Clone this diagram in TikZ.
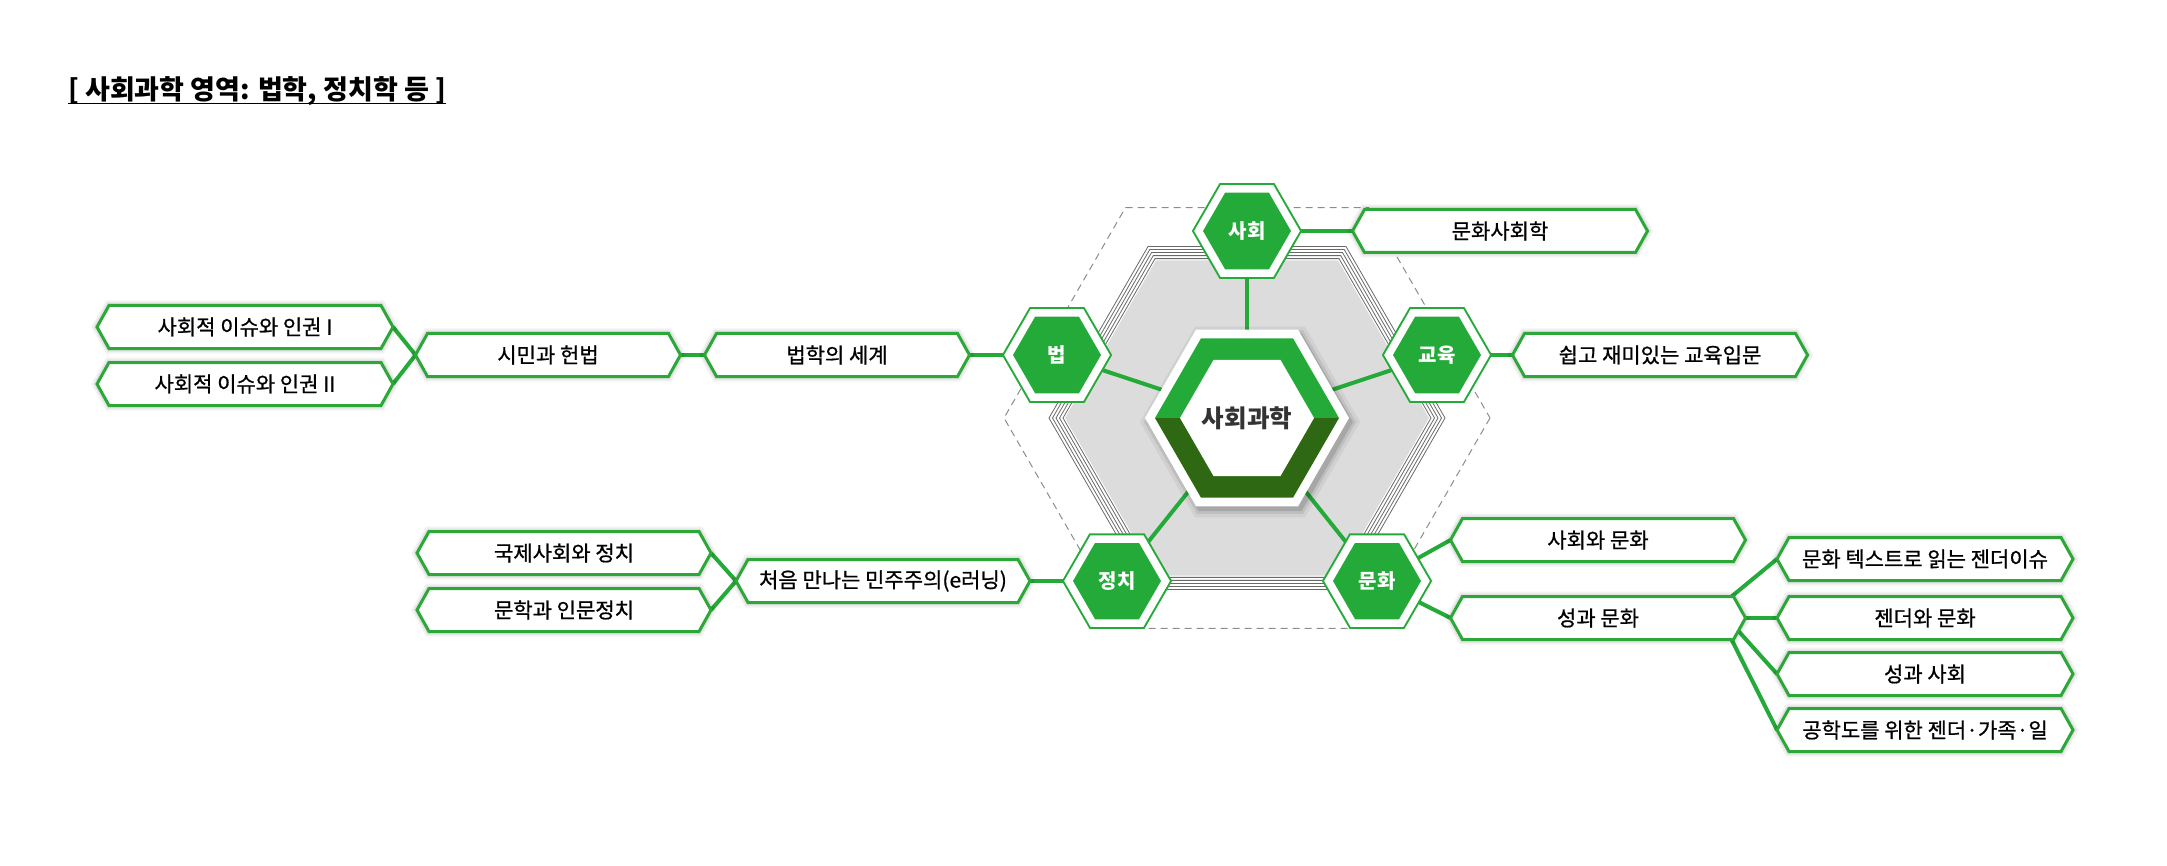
\documentclass[tikz,border=0pt]{standalone}
\usepackage{fontspec}
\setmainfont{Noto Sans CJK KR}
\newfontfamily\lblfont[FakeBold=0.8]{Noto Sans CJK KR}
\usetikzlibrary{shapes.geometric,calc}
\definecolor{hexgreen}{RGB}{36,170,57}
\definecolor{darkg}{RGB}{46,104,18}
\definecolor{boxgreen}{RGB}{44,168,56}
\definecolor{grayfill}{RGB}{220,220,220}
\definecolor{hexline}{RGB}{105,105,105}
\definecolor{coretxt}{RGB}{51,51,51}
\pgfdeclarelayer{back}
\pgfdeclarelayer{bg}
\pgfdeclarelayer{mid}
\pgfsetlayers{back,bg,mid,main}
\newcommand\frameit[1]{%
  \begin{pgfonlayer}{mid}
  \draw[boxframe] (#1.west) -- ([xshift=12pt]#1.north west) -- ([xshift=-12pt]#1.north east) -- (#1.east) -- ([xshift=-12pt]#1.south east) -- ([xshift=12pt]#1.south west) -- cycle;
  \end{pgfonlayer}}
\newcommand\hexat[1]{(0:#1) -- (60:#1) -- (120:#1) -- (180:#1) -- (240:#1) -- (300:#1) -- cycle}
\begin{document}
\begin{tikzpicture}[x=1pt,y=-1pt,
  lbl/.style={rectangle, inner sep=0pt, outer sep=0pt, minimum height=43pt, font=\lblfont\fontsize{21pt}{25pt}\selectfont, text=black},
  boxframe/.style={draw=boxgreen, line width=3pt, fill=white, line join=miter,
    preaction={draw=black, draw opacity=0.05, line width=10pt},
    preaction={draw=black, draw opacity=0.07, line width=6pt}},
  link/.style={draw=hexgreen, line width=4pt},
  smallhex/.style={regular polygon, regular polygon sides=6, minimum size=97pt, inner sep=0pt, outer sep=0pt,
    draw=hexgreen, line width=2pt, double=white, double distance=7.5pt, fill=hexgreen,
    text=white, font=\fontsize{20pt}{24pt}\selectfont\bfseries},
  coretext/.style={inner sep=0pt, text=coretxt, font=\fontsize{24.5pt}{28pt}\selectfont\bfseries},
  titletext/.style={inner sep=0pt, font=\fontsize{27pt}{32pt}\selectfont\bfseries}]
\useasboundingbox (0,0) rectangle (2167,866);

% title
\node[titletext, anchor=base west] (title) at (68,100) {[ 사회과학 영역: 법학, 정치학 등 ]};
\draw[line width=1.6pt] ([yshift=-3.5pt]title.base west) -- ([yshift=-3.5pt]title.base east);

% background hexagons
\begin{pgfonlayer}{back}
\begin{scope}[shift={(1247,418)}]
  \draw[black!45, line width=1pt, dash pattern=on 7pt off 5pt] \hexat{243};
  \fill[grayfill] \hexat{182};
  \foreach \r in {198,194.5,191,187.5,184} \draw[hexline, line width=0.8pt] \hexat{\r};
\end{scope}
\end{pgfonlayer}

% central hexagon
\begin{scope}[shift={(1250,422)}]
  \fill[black, opacity=0.05] \hexat{110};
  \fill[black, opacity=0.08] \hexat{106};
  \fill[black, opacity=0.12] \hexat{103};
\end{scope}
\begin{scope}[shift={(1247,418)}]
  \fill[white] \hexat{102};
  \fill[hexgreen] (180:92) -- (240:92) -- (300:92) -- (0:92) -- cycle;
  \fill[darkg] (0:92) -- (60:92) -- (120:92) -- (180:92) -- cycle;
  \fill[white] \hexat{67};
\end{scope}
\node[coretext] (core) at (1247,418) {사회과학};

% small hexagons
\node[smallhex] (hsoc) at (1247,231) {사회};
\node[smallhex] (hlaw) at (1057,355) {법};
\node[smallhex] (hedu) at (1437,355) {교육};
\node[smallhex] (hpol) at (1117,581) {정치};
\node[smallhex] (hcul) at (1377,581) {문화};

% label boxes
\node[lbl, minimum width=296pt] (soc1) at (245,327) {사회적 이슈와 인권 I};
\node[lbl, minimum width=296pt] (soc2) at (245,384) {사회적 이슈와 인권 II};
\node[lbl, minimum width=265pt] (civ) at (548,355) {시민과 헌법};
\node[lbl, minimum width=265pt] (lawbook) at (837,355) {법학의 세계};
\node[lbl, minimum width=295pt] (culsoc) at (1500,231) {문화사회학};
\node[lbl, minimum width=295pt] (eduintro) at (1660,355) {쉽고 재미있는 교육입문};
\node[lbl, minimum width=294pt] (intl) at (564,553) {국제사회와 정치};
\node[lbl, minimum width=294pt] (litpol) at (564,610) {문학과 인문정치};
\node[lbl, minimum width=294pt] (demo) at (883,581) {처음 만나는 민주주의(e러닝)};
\node[lbl, minimum width=295pt] (soccul) at (1598,540) {사회와 문화};
\node[lbl, minimum width=295pt] (gencul) at (1598,618) {성과 문화};
\node[lbl, minimum width=296pt] (gtext) at (1925,559) {문화 텍스트로 읽는 젠더이슈};
\node[lbl, minimum width=296pt] (gender) at (1925,618) {젠더와 문화};
\node[lbl, minimum width=296pt] (gsoc) at (1925,674) {성과 사회};
\node[lbl, minimum width=296pt] (geng) at (1925,730) {공학도를 위한 젠더·가족·일};
\foreach \n in {soc1,soc2,civ,lawbook,culsoc,eduintro,intl,litpol,demo,soccul,gencul,gtext,gender,gsoc,geng} {\frameit{\n}}

% connectors
\begin{pgfonlayer}{bg}
  \foreach \h in {hsoc,hlaw,hedu,hpol,hcul} \draw[link] (core.center) -- (\h.center);
  \draw[link] (hsoc.center) -- (culsoc.west);
  \draw[link] (hlaw.center) -- (lawbook.east);
  \draw[link] (lawbook.west) -- (civ.east);
  \draw[link] (civ.west) -- (soc1.east);
  \draw[link] (civ.west) -- (soc2.east);
  \draw[link] (hedu.center) -- (eduintro.west);
  \draw[link] (hpol.center) -- (demo.east);
  \draw[link] (demo.west) -- (intl.east);
  \draw[link] (demo.west) -- (litpol.east);
  \draw[link] (hcul.center) -- (soccul.west);
  \draw[link] (hcul.center) -- (gencul.west);
  \draw[link] ([xshift=-14pt]gencul.north east) -- (gtext.west);
  \draw[link] (gencul.east) -- (gender.west);
  \draw[link] ($(gencul.east)!0.6!([xshift=-12pt]gencul.south east)$) -- (gsoc.west);
  \draw[link] ([xshift=-14pt]gencul.south east) -- (geng.west);
\end{pgfonlayer}
\end{tikzpicture}
\end{document}
